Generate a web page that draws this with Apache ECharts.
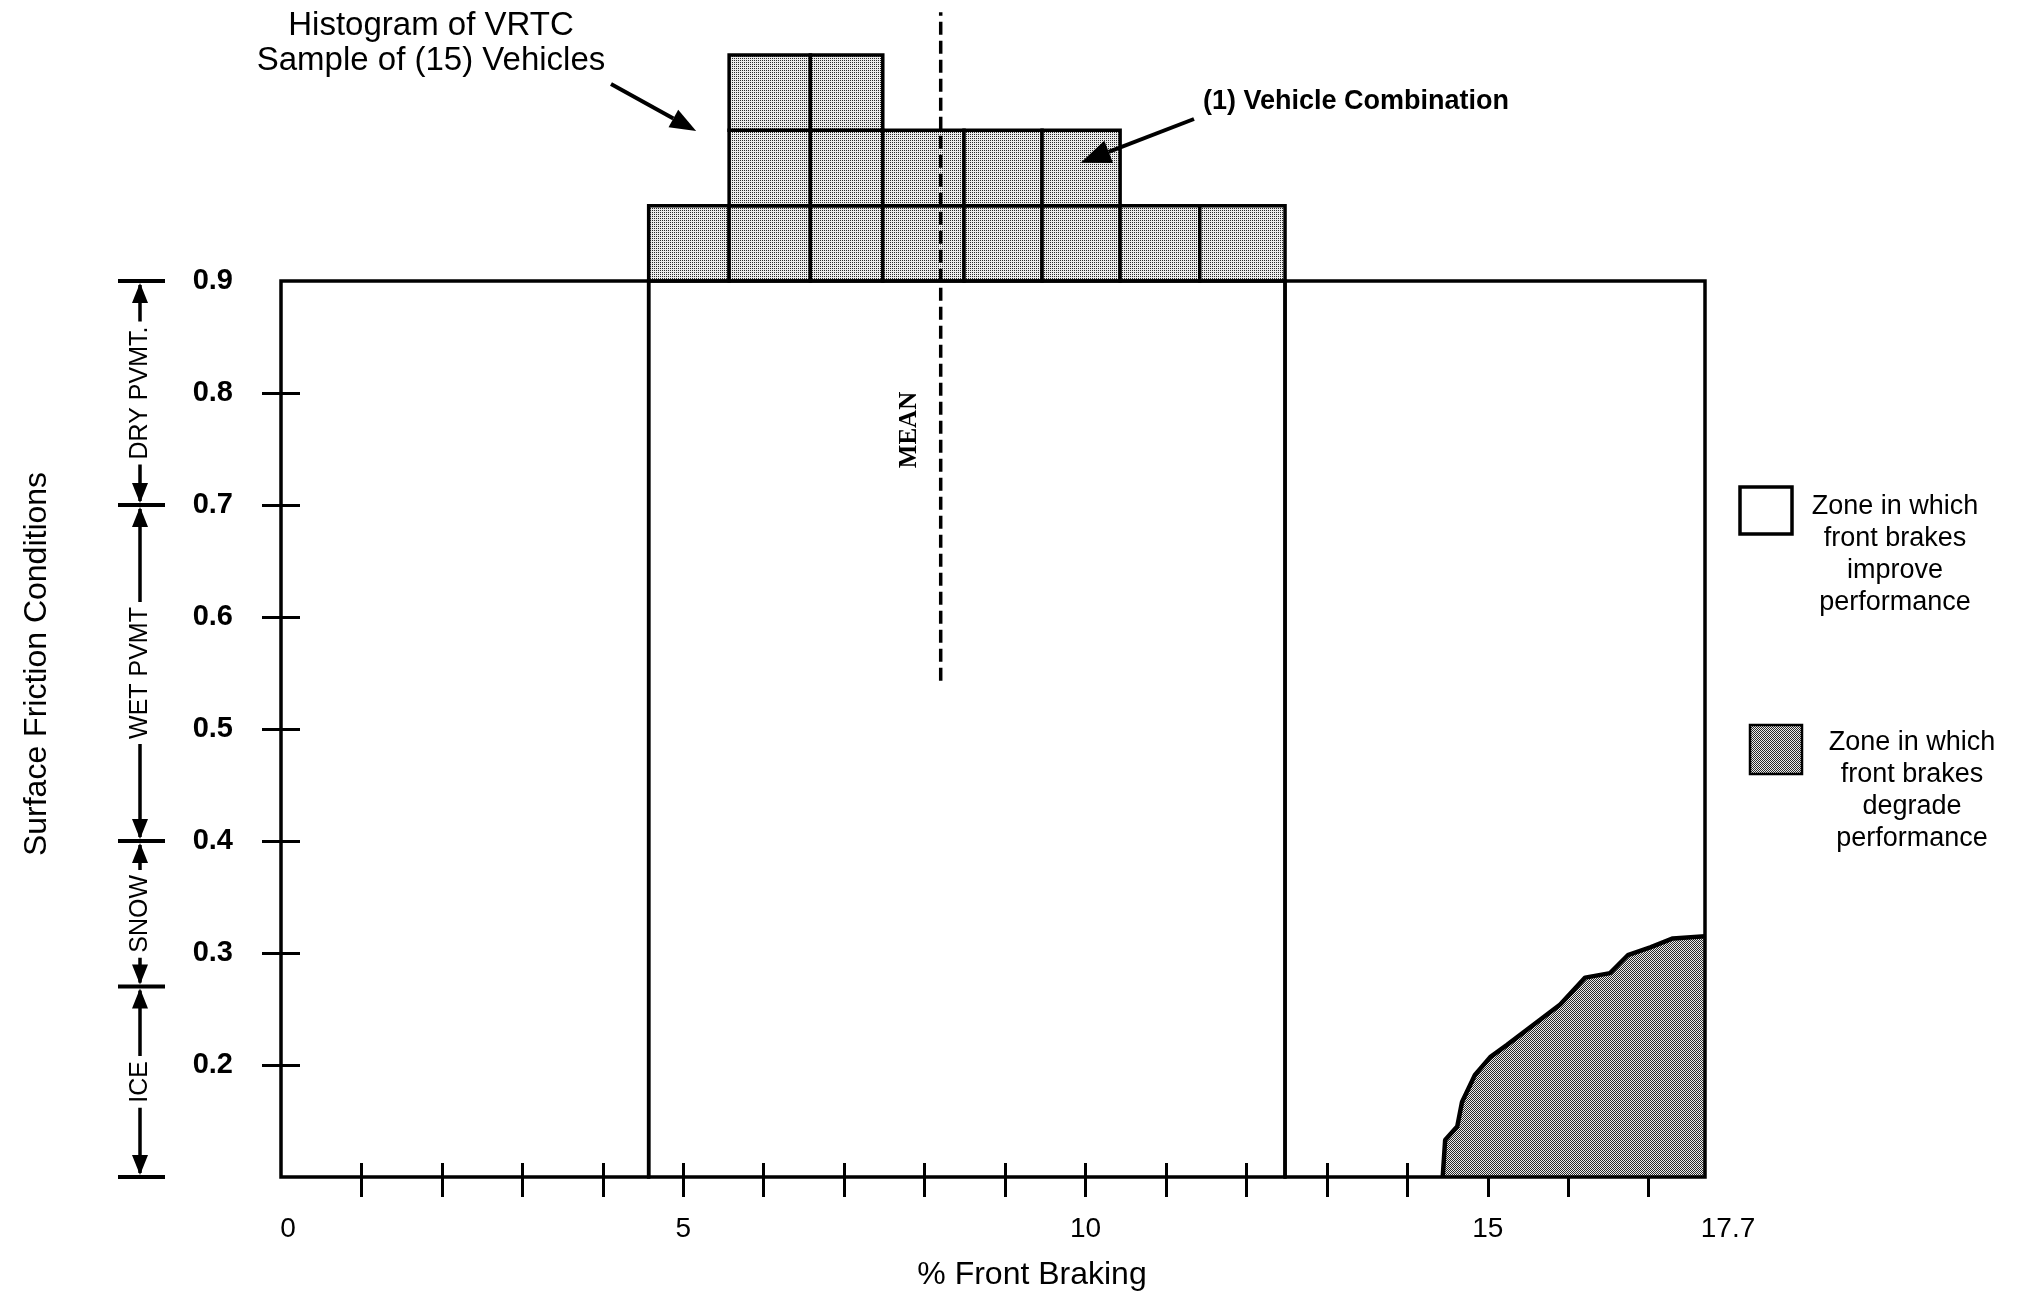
<!DOCTYPE html>
<html><head><meta charset="utf-8">
<script src="https://cdn.jsdelivr.net/npm/echarts@6/dist/echarts.min.js"></script>
<style>html,body{margin:0;padding:0;background:#fff}#c{width:2022px;height:1297px}</style>
</head><body><div id="c"></div>
<script>
// ---------- data ----------
const xTickValues = [1,2,3,4,5,6,7,8,9,10,11,12,13,14,15,16,17];
const xLabelValues = [0,5,10,15,17.7];
const yLabelValues = [0.2,0.3,0.4,0.5,0.6,0.7,0.8,0.9];
const yTickValues = [0.2,0.3,0.4,0.5,0.6,0.7,0.8];
const zoneEdges = [0, 4.57, 12.48, 17.7];
const histBinEdges = [4.57,5.57,6.58,7.48,8.49,9.46,10.43,11.42,12.48];
const histCounts = [1,3,3,2,2,2,1,1];
const degradeX = [14.44,14.47,14.62,14.68,14.84,15.03,15.24,15.90,16.21,16.52,16.74,17.02,17.30,17.70];
const degradeY = [0.100,0.133,0.145,0.167,0.191,0.207,0.218,0.254,0.278,0.282,0.298,0.305,0.313,0.315];
const meanX = 8.2;
const meanLineY = [0.543, 1.14];
const conditionBounds = [0.9,0.7,0.4,0.27,0.1];
const conditionLabels = ['DRY PVMT.','WET PVMT','SNOW','ICE'];
const Y_MIN = 0.1, Y_MAX = 0.9, X_MIN = 0, X_MAX = 17.7;

const FONT = "'Liberation Sans', Arial, Helvetica, sans-serif";
const SERIF = "'Liberation Serif', 'Times New Roman', serif";

function makePattern(size, bg, dark, dots){
  const c = document.createElement('canvas');
  c.width = size; c.height = size;
  const ctx = c.getContext('2d');
  ctx.fillStyle = bg; ctx.fillRect(0,0,size,size);
  ctx.fillStyle = dark;
  dots.forEach(d => ctx.fillRect(d[0], d[1], 1, 1));
  return {image: c, repeat: 'repeat'};
}
const histPattern = makePattern(2, '#ebebeb', '#2a2a2a', [[0,0]]);
const degradePattern = makePattern(2, '#ececec', '#2a2a2a', [[0,0],[1,1]]);

// build structures
const zoneData = [];
for (let i = 0; i < zoneEdges.length - 1; i++) zoneData.push([zoneEdges[i], zoneEdges[i+1], Y_MIN, Y_MAX]);
const histCells = [];
histCounts.forEach((n, i) => { for (let r = 0; r < n; r++) histCells.push([histBinEdges[i], histBinEdges[i+1], r]); });
const degradeData = degradeX.map((x, i) => [x, degradeY[i]]);
const meanData = meanLineY.map(y => [meanX, y]);

const chart = echarts.init(document.getElementById('c'));
const tickStyle = {color:'#000', width:3};

const option = {
  animation: false,
  backgroundColor: '#fff',
  textStyle: {fontFamily: FONT, color: '#000'},
  grid: [
    {left: 281, right: 317, top: 281, bottom: 120},
    {left: 281, right: 317, top: 55, height: 226}
  ],
  xAxis: [
    {gridIndex:0, type:'value', min:X_MIN, max:X_MAX, position:'bottom',
     axisLine:{show:false}, splitLine:{show:false},
     axisTick:{show:true, customValues:xTickValues, length:20, lineStyle:tickStyle},
     axisLabel:{customValues:xLabelValues, margin:38, fontSize:28, color:'#000', fontFamily:FONT,
       formatter: v => v === 17.7 ? '{a|17.7}' : (v === 0 ? '{b|0}' : String(v)),
       rich:{a:{padding:[0,0,0,46], fontSize:28, fontFamily:FONT, color:'#000'},
             b:{padding:[0,0,0,14], fontSize:28, fontFamily:FONT, color:'#000'}}},
     name:'% Front Braking', nameLocation:'middle', nameGap:82,
     nameTextStyle:{fontSize:32, color:'#000', fontFamily:FONT, padding:[0,0,0,78]}},
    {gridIndex:0, type:'value', min:X_MIN, max:X_MAX, position:'bottom',
     axisLine:{show:false}, splitLine:{show:false}, axisLabel:{show:false},
     axisTick:{show:true, inside:true, customValues:xTickValues, length:14, lineStyle:tickStyle}},
    {gridIndex:1, type:'value', min:X_MIN, max:X_MAX, show:false}
  ],
  yAxis: [
    {gridIndex:0, type:'value', min:Y_MIN, max:Y_MAX, interval:0.1, position:'left',
     axisLine:{show:false}, splitLine:{show:false},
     axisTick:{show:true, customValues:yTickValues, length:19, lineStyle:tickStyle},
     axisLabel:{customValues:yLabelValues, margin:48, fontSize:29, fontWeight:'bold', color:'#000', fontFamily:FONT,
       formatter: v => v.toFixed(1)},
     name:'Surface Friction Conditions', nameLocation:'middle', nameGap:228,
     nameTextStyle:{fontSize:32, color:'#000', fontFamily:FONT, padding:[0,0,0,130]}},
    {gridIndex:0, type:'value', min:Y_MIN, max:Y_MAX, position:'left',
     axisLine:{show:false}, splitLine:{show:false}, axisLabel:{show:false},
     axisTick:{show:true, inside:true, customValues:yTickValues, length:19, lineStyle:tickStyle}},
    {gridIndex:1, type:'value', min:0, max:3, show:false}
  ],
  series: [
    {type:'line', name:'degrade', xAxisIndex:0, yAxisIndex:0, data:degradeData, symbol:'none', z:3,
     lineStyle:{color:'#000', width:4.5}, areaStyle:{color:degradePattern, origin:'start', opacity:1}},
    {type:'custom', name:'zones', xAxisIndex:0, yAxisIndex:0, data:zoneData, z:5,
     encode:{x:[0,1], y:[2,3]},
     renderItem:(params, api) => {
       const p0 = api.coord([api.value(0), api.value(3)]);
       const p1 = api.coord([api.value(1), api.value(2)]);
       return {type:'rect', shape:{x:p0[0], y:p0[1], width:p1[0]-p0[0], height:p1[1]-p0[1]},
               style:{fill:'none', stroke:'#000', lineWidth:3.5}};
     }},
    {type:'custom', name:'histogram', xAxisIndex:2, yAxisIndex:2, data:histCells, z:4,
     encode:{x:[0,1], y:2},
     renderItem:(params, api) => {
       const r = api.value(2);
       const p0 = api.coord([api.value(0), r+1]);
       const p1 = api.coord([api.value(1), r]);
       return {type:'rect', shape:{x:p0[0], y:p0[1], width:p1[0]-p0[0], height:p1[1]-p0[1]},
               style:{fill:histPattern, stroke:'#000', lineWidth:3.5}};
     }},
    {type:'line', name:'mean', xAxisIndex:0, yAxisIndex:0, data:meanData, symbol:'none', clip:false, z:10,
     lineStyle:{color:'#000', width:3.5, type:[13,6]}}
  ]
};
chart.setOption(option);

// ---------- annotations ----------
const toPx = (x, y) => chart.convertToPixel({xAxisIndex:0, yAxisIndex:0}, [x, y]);
const toPxH = (x, c) => chart.convertToPixel({xAxisIndex:2, yAxisIndex:2}, [x, c]);
const g = [];

function arrow(x1, y1, x2, y2, headLen, headW, lw){
  const ang = Math.atan2(y2 - y1, x2 - x1);
  const bx = x2 - headLen * Math.cos(ang), by = y2 - headLen * Math.sin(ang);
  const nx = -Math.sin(ang) * headW / 2, ny = Math.cos(ang) * headW / 2;
  g.push({type:'line', z:50, shape:{x1, y1, x2:bx, y2:by}, style:{stroke:'#000', lineWidth:lw}});
  g.push({type:'polygon', z:50, shape:{points:[[x2,y2],[bx+nx,by+ny],[bx-nx,by-ny]]}, style:{fill:'#000'}});
}

// condition bracket
const leftPx = toPx(0, Y_MIN)[0];
const bxp = leftPx - 141;
const ys = conditionBounds.map(b => toPx(0, b)[1]);
ys.forEach((y, i) => {
  g.push({type:'line', z:20, shape:{x1:bxp - 22, y1:y, x2:bxp + 25, y2:y}, style:{stroke:'#000', lineWidth:4}});
});
for (let i = 0; i < conditionLabels.length; i++) {
  const yT = ys[i], yB = ys[i+1];
  g.push({type:'line', z:20, shape:{x1:bxp, y1:yT + 4, x2:bxp, y2:yB - 4}, style:{stroke:'#000', lineWidth:3.5}});
  g.push({type:'polygon', z:20, shape:{points:[[bxp, yT + 2],[bxp - 8, yT + 22],[bxp + 8, yT + 22]]}, style:{fill:'#000'}});
  g.push({type:'polygon', z:20, shape:{points:[[bxp, yB - 2],[bxp - 8, yB - 22],[bxp + 8, yB - 22]]}, style:{fill:'#000'}});
  g.push({type:'text', x:bxp, y:(yT + yB) / 2, rotation:Math.PI / 2, z:30,
          style:{text:conditionLabels[i], fontSize:25, fontFamily:FONT, fill:'#000', align:'center', verticalAlign:'middle',
                 backgroundColor:'#fff', padding:[2,5]}});
}

// MEAN label
const meanPx = toPx(meanX, 0.767);
g.push({type:'text', x:meanPx[0] - 31, y:meanPx[1], rotation:Math.PI / 2, z:30,
        style:{text:'MEAN', fontSize:25, fontWeight:'bold', fontFamily:SERIF, fill:'#000', align:'center', verticalAlign:'middle'}});

// histogram caption + arrow
g.push({type:'text', x:431, y:43, z:30,
        style:{text:'Histogram of VRTC\nSample of (15) Vehicles', fontSize:33, lineHeight:35, fontFamily:FONT,
               fill:'#000', align:'center', verticalAlign:'middle'}});
const tip1 = toPxH(5.16, 1.99);
arrow(611, 84, tip1[0], tip1[1], 26, 20, 4);

// vehicle combination caption + arrow
g.push({type:'text', x:1203, y:102, z:30,
        style:{text:'(1) Vehicle Combination', fontSize:27, fontWeight:'bold', fontFamily:FONT, fill:'#000',
               align:'left', verticalAlign:'middle'}});
const tip2 = toPxH(9.94, 1.57);
arrow(1194, 119, tip2[0], tip2[1], 30, 24, 4);

// legend
g.push({type:'rect', z:30, shape:{x:1740, y:487, width:52, height:47}, style:{fill:'#fff', stroke:'#000', lineWidth:3.5}});
g.push({type:'text', x:1895, y:555, z:30,
        style:{text:'Zone in which\nfront brakes\nimprove\nperformance', fontSize:27, lineHeight:32, fontFamily:FONT,
               fill:'#000', align:'center', verticalAlign:'middle'}});
g.push({type:'rect', z:30, shape:{x:1750, y:725, width:52, height:49}, style:{fill:degradePattern, stroke:'#000', lineWidth:2.5}});
g.push({type:'text', x:1912, y:791, z:30,
        style:{text:'Zone in which\nfront brakes\ndegrade\nperformance', fontSize:27, lineHeight:32, fontFamily:FONT,
               fill:'#000', align:'center', verticalAlign:'middle'}});

chart.setOption({graphic: g});
</script></body></html>
